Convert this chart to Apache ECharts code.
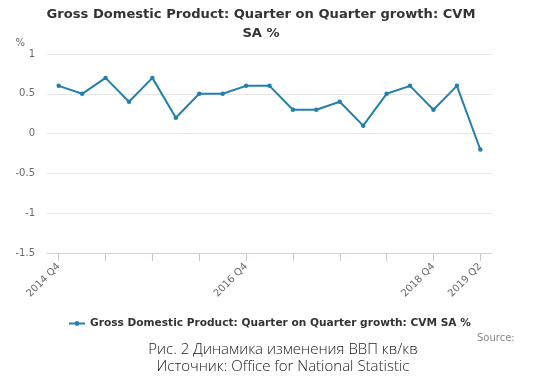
<!DOCTYPE html>
<html><head><meta charset="utf-8">
<script src="https://cdn.jsdelivr.net/npm/echarts@6/dist/echarts.min.js"></script>
<style>html,body{margin:0;padding:0;background:#fff}#c{width:540px;height:377px}</style>
</head><body><div id="c"></div>
<script>
const categories = ['2014 Q4','2015 Q1','2015 Q2','2015 Q3','2015 Q4','2016 Q1','2016 Q2','2016 Q3','2016 Q4','2017 Q1','2017 Q2','2017 Q3','2017 Q4','2018 Q1','2018 Q2','2018 Q3','2018 Q4','2019 Q1','2019 Q2'];
const gdpGrowth = [0.6,0.5,0.7,0.4,0.7,0.2,0.5,0.5,0.6,0.6,0.3,0.3,0.4,0.1,0.5,0.6,0.3,0.6,-0.2];
const shownLabels = ['2014 Q4','2016 Q4','2018 Q4','2019 Q2'];
const seriesName = 'Gross Domestic Product: Quarter on Quarter growth: CVM SA %';
const titleText = 'Gross Domestic Product: Quarter on Quarter growth: CVM\nSA %';
const captionText = 'Рис. 2 Динамика изменения ВВП кв/кв\nИсточник: Office for National Statistic';

const chart = echarts.init(document.getElementById('c'));
const lineColor = '#2380ad';
chart.setOption({
  animation: false,
  title: [
    {text: titleText, left: 256, top: 0, textAlign: 'center',
     textStyle: {fontFamily: 'DejaVu Sans', fontSize: 13.1, fontWeight: 'bold', color: '#333', lineHeight: 19}},
    {text: 'Source:', left: 472, top: 328,
     textStyle: {fontFamily: 'DejaVu Sans', fontSize: 10, fontWeight: 'normal', color: '#888'}},
    {text: captionText, left: 278, top: 336, textAlign: 'center',
     textStyle: {fontFamily: 'Open Sans', fontSize: 15, fontWeight: 300, color: '#1a1a1a', lineHeight: 17}}
  ],
  legend: {
    data: [seriesName], left: 63, top: 313, itemWidth: 16, itemHeight: 6, itemGap: 4,
    textStyle: {fontFamily: 'DejaVu Sans', fontSize: 10.6, fontWeight: 'bold', color: '#333'}
  },
  grid: {left: 47, right: 48, top: 54, bottom: 124},
  xAxis: {
    type: 'category', data: categories, boundaryGap: true,
    axisLine: {show: true, onZero: false, lineStyle: {color: '#c8d2e6'}},
    axisTick: {show: true, alignWithLabel: true, interval: 1, length: 8, lineStyle: {color: '#c0cbe0'}},
    axisLabel: {
      interval: (i, v) => shownLabels.includes(v), rotate: 45, margin: 12,
      fontFamily: 'DejaVu Sans', fontSize: 10, color: '#666'
    },
    splitLine: {show: false}
  },
  yAxis: {
    type: 'value', min: -1.5, max: 1, interval: 0.5,
    name: '%', nameLocation: 'end', nameGap: 6,
    nameTextStyle: {fontFamily: 'DejaVu Sans', fontSize: 10, color: '#666', align: 'right', padding: [0, 22, 0, 0]},
    axisLine: {show: false}, axisTick: {show: false},
    axisLabel: {fontFamily: 'DejaVu Sans', fontSize: 10, color: '#666', margin: 12},
    splitLine: {lineStyle: {color: '#e6e6e6'}}
  },
  series: [{
    name: seriesName, type: 'line', data: gdpGrowth,
    symbol: 'circle', symbolSize: 4.5, showSymbol: true,
    lineStyle: {color: lineColor, width: 2},
    itemStyle: {color: lineColor}
  }]
});
</script></body></html>
